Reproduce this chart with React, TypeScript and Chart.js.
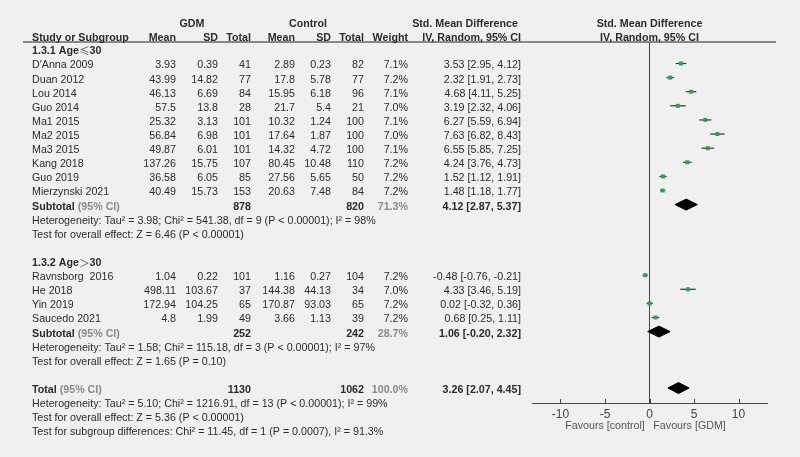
import React, { useEffect, useRef } from "react";
import { Chart, registerables } from "chart.js";

Chart.register(...registerables);

// ---- Data ----
const studies = [
  "D'Anna 2009", "Duan 2012", "Lou 2014", "Guo 2014", "Ma1 2015", "Ma2 2015", "Ma3 2015",
  "Kang 2018", "Guo 2019", "Mierzynski 2021",
  "Ravnsborg  2016", "He 2018", "Yin 2019", "Saucedo 2021",
];
const studyRows = [1, 2, 3, 4, 5, 6, 7, 8, 9, 10, 16, 17, 18, 19];
const gdmMean = [3.93, 43.99, 46.13, 57.5, 25.32, 56.84, 49.87, 137.26, 36.58, 40.49, 1.04, 498.11, 172.94, 4.8];
const gdmSD = [0.39, 14.82, 6.69, 13.8, 3.13, 6.98, 6.01, 15.75, 6.05, 15.73, 0.22, 103.67, 104.25, 1.99];
const gdmN = [41, 77, 84, 28, 101, 101, 101, 107, 85, 153, 101, 37, 65, 49];
const ctlMean = [2.89, 17.8, 15.95, 21.7, 10.32, 17.64, 14.32, 80.45, 27.56, 20.63, 1.16, 144.38, 170.87, 3.66];
const ctlSD = [0.23, 5.78, 6.18, 5.4, 1.24, 1.87, 4.72, 10.48, 5.65, 7.48, 0.27, 44.13, 93.03, 1.13];
const ctlN = [82, 77, 96, 21, 100, 100, 100, 110, 50, 84, 104, 34, 65, 39];
const weights = ["7.1%", "7.2%", "7.1%", "7.0%", "7.1%", "7.0%", "7.1%", "7.2%", "7.2%", "7.2%", "7.2%", "7.0%", "7.2%", "7.2%"];
const smd = [3.53, 2.32, 4.68, 3.19, 6.27, 7.63, 6.55, 4.24, 1.52, 1.48, -0.48, 4.33, 0.02, 0.68];
const ciLow = [2.95, 1.91, 4.11, 2.32, 5.59, 6.82, 5.85, 3.76, 1.12, 1.18, -0.76, 3.46, -0.32, 0.25];
const ciHigh = [4.12, 2.73, 5.25, 4.06, 6.94, 8.43, 7.25, 4.73, 1.91, 1.77, -0.21, 5.19, 0.36, 1.11];

const groupPrefixes = ["1.3.1 Age", "1.3.2 Age"];
const groupSymbols = ["\u2264", "\uff1e"];
const groupSuffixes = ["30", "30"];
const groupHeaderRows = [0, 15];

const summaryLabels = ["Subtotal", "Subtotal", "Total"];
const summaryRows = [11, 20, 24];
const summaryGdmN = [878, 252, 1130];
const summaryCtlN = [820, 242, 1062];
const summaryWeights = ["71.3%", "28.7%", "100.0%"];
const summaryEst = [4.12, 1.06, 3.26];
const summaryLow = [2.87, -0.2, 2.07];
const summaryHigh = [5.37, 2.32, 4.45];

const noteLines = [
  "Heterogeneity: Tau\u00b2 = 3.98; Chi\u00b2 = 541.38, df = 9 (P < 0.00001); I\u00b2 = 98%",
  "Test for overall effect: Z = 6.46 (P < 0.00001)",
  "Heterogeneity: Tau\u00b2 = 1.58; Chi\u00b2 = 115.18, df = 3 (P < 0.00001); I\u00b2 = 97%",
  "Test for overall effect: Z = 1.65 (P = 0.10)",
  "Heterogeneity: Tau\u00b2 = 5.10; Chi\u00b2 = 1216.91, df = 13 (P < 0.00001); I\u00b2 = 99%",
  "Test for overall effect: Z = 5.36 (P < 0.00001)",
  "Test for subgroup differences: Chi\u00b2 = 11.45, df = 1 (P = 0.0007), I\u00b2 = 91.3%",
];
const noteRows = [12, 13, 21, 22, 25, 26, 27];

const xTicks = [-10, -5, 0, 5, 10];
const favourLabels = ["Favours [control]", "Favours [GDM]"];

// ---- Styling ----
const FONT = "'Liberation Sans', Arial, 'Noto Sans CJK SC', sans-serif";
const CJK = "'Noto Sans CJK SC', sans-serif";
const FS = 10.7;
const TEXT = "#2b2b2b";
const GREY = "#8a8a8a";
const TEXT_DY = 2;
const Y_TOP = -0.524;
const Y_BOTTOM = 25.06;
const DIAMOND_H = 0.39;

const col = {
  study: 32,
  gMean: 176, gSD: 218, gN: 251,
  cMean: 295, cSD: 331, cN: 364,
  weight: 408, smd: 521,
};

function fmt2(v: number) {
  return v.toFixed(2);
}

const textPlugin = {
  id: "forestText",
  afterDraw(chart: any) {
    const ctx: CanvasRenderingContext2D = chart.ctx;
    const ys = chart.scales.y;
    const xs = chart.scales.x;
    const area = chart.chartArea;
    const Y = (r: number) => ys.getPixelForValue(r) + TEXT_DY;
    const t = (s: string, x: number, y: number, align: CanvasTextAlign, bold = false, color = TEXT, size = FS, fam = FONT) => {
      ctx.font = `${bold ? "bold " : ""}${size}px ${fam}`;
      ctx.fillStyle = color;
      ctx.textAlign = align;
      ctx.textBaseline = "middle";
      ctx.fillText(s, x, y);
      return ctx.measureText(s).width;
    };
    ctx.save();
    // header line
    ctx.strokeStyle = "#666";
    ctx.lineWidth = 1.5;
    ctx.beginPath();
    ctx.moveTo(23, area.top);
    ctx.lineTo(776, area.top);
    ctx.stroke();

    // headers
    const h1 = Y(-2) + 1, h2 = Y(-1) + 0.5;
    const plotCenter = xs.getPixelForValue(0);
    t("GDM", 192, h1, "center", true);
    t("Control", 308, h1, "center", true);
    t("Std. Mean Difference", 465, h1, "center", true);
    t("Std. Mean Difference", plotCenter, h1, "center", true);
    t("Study or Subgroup", col.study, h2, "left", true);
    t("Mean", col.gMean, h2, "right", true);
    t("SD", col.gSD, h2, "right", true);
    t("Total", col.gN, h2, "right", true);
    t("Mean", col.cMean, h2, "right", true);
    t("SD", col.cSD, h2, "right", true);
    t("Total", col.cN, h2, "right", true);
    t("Weight", col.weight, h2, "right", true);
    t("IV, Random, 95% CI", col.smd, h2, "right", true);
    t("IV, Random, 95% CI", plotCenter, h2, "center", true);

    groupPrefixes.forEach((g, i) => {
      const y = Y(groupHeaderRows[i]);
      let x = col.study;
      x += t(g, x, y, "left", true);
      x += t(groupSymbols[i], x, y, "left", false, "#555", FS, CJK);
      t(groupSuffixes[i], x, y, "left", true);
    });

    studies.forEach((s, i) => {
      const y = Y(studyRows[i]);
      t(s, col.study, y, "left");
      t(String(gdmMean[i]), col.gMean, y, "right");
      t(String(gdmSD[i]), col.gSD, y, "right");
      t(String(gdmN[i]), col.gN, y, "right");
      t(String(ctlMean[i]), col.cMean, y, "right");
      t(String(ctlSD[i]), col.cSD, y, "right");
      t(String(ctlN[i]), col.cN, y, "right");
      t(weights[i], col.weight, y, "right");
      t(`${fmt2(smd[i])} [${fmt2(ciLow[i])}, ${fmt2(ciHigh[i])}]`, col.smd, y, "right");
    });

    summaryLabels.forEach((lab, i) => {
      const y = Y(summaryRows[i]);
      const w = t(lab + " ", col.study, y, "left", true);
      t("(95% CI)", col.study + w, y, "left", true, GREY);
      t(String(summaryGdmN[i]), col.gN, y, "right", true);
      t(String(summaryCtlN[i]), col.cN, y, "right", true);
      t(summaryWeights[i], col.weight, y, "right", true, GREY);
      t(`${fmt2(summaryEst[i])} [${fmt2(summaryLow[i])}, ${fmt2(summaryHigh[i])}]`, col.smd, y, "right", true);
    });

    noteLines.forEach((n, i) => t(n, col.study, Y(noteRows[i]), "left"));

    // tick marks pointing up
    ctx.strokeStyle = "#444";
    ctx.lineWidth = 1;
    xTicks.forEach((v) => {
      const x = Math.round(xs.getPixelForValue(v)) + 0.5;
      ctx.beginPath();
      ctx.moveTo(x, area.bottom - 4);
      ctx.lineTo(x, area.bottom);
      ctx.stroke();
    });

    // favours labels
    const fy = 426;
    t(favourLabels[0], xs.getPixelForValue(-5), fy, "center", false, "#555");
    t(favourLabels[1], xs.getPixelForValue(4.5), fy, "center", false, "#555");
    ctx.restore();
  },
};

export default function App() {
  const ref = useRef<HTMLCanvasElement>(null);
  useEffect(() => {
    const squares = {
      data: smd.map((v, i) => ({ x: v, y: studyRows[i] })),
      pointStyle: "rect",
      pointRadius: 2.8,
      backgroundColor: "#1faa48",
      borderWidth: 0,
      showLine: false,
    };
    const ciLines = smd.map((_, i) => ({
      data: [
        { x: ciLow[i], y: studyRows[i] },
        { x: ciHigh[i], y: studyRows[i] },
      ],
      showLine: true,
      borderColor: "#333",
      borderWidth: 1.2,
      pointRadius: 0,
    }));
    const diamonds = summaryEst.map((e, i) => ({
      data: [
        { x: summaryLow[i], y: summaryRows[i] },
        { x: e, y: summaryRows[i] - DIAMOND_H },
        { x: summaryHigh[i], y: summaryRows[i] },
        { x: e, y: summaryRows[i] + DIAMOND_H },
        { x: summaryLow[i], y: summaryRows[i] },
      ],
      showLine: true,
      fill: "shape",
      backgroundColor: "#000",
      borderColor: "#000",
      borderWidth: 1,
      pointRadius: 0,
      tension: 0,
    }));
    const zeroLine = {
      data: [
        { x: 0, y: Y_TOP },
        { x: 0, y: Y_BOTTOM },
      ],
      showLine: true,
      borderColor: "#444",
      borderWidth: 1,
      pointRadius: 0,
    };
    const chart = new Chart(ref.current!, {
      type: "scatter",
      data: { datasets: [squares, ...ciLines, ...diamonds, zeroLine] as any },
      options: {
        responsive: false,
        animation: false,
        events: [],
        layout: { padding: { left: 532, right: 33, top: 42, bottom: 0 } },
        plugins: { legend: { display: false }, tooltip: { enabled: false } },
        scales: {
          x: {
            type: "linear",
            position: "bottom",
            min: -13.2,
            max: 13.2,
            afterBuildTicks: (s: any) => {
              s.ticks = xTicks.map((v) => ({ value: v }));
            },
            afterFit: (s: any) => {
              s.height = 54;
            },
            grid: { display: true, drawOnChartArea: false, drawTicks: false },
            border: { display: true, color: "#444", width: 1 },
            ticks: {
              padding: 4,
              color: "#444",
              font: { family: FONT, size: 12 },
              callback: (v: any) => String(v),
            },
          },
          y: {
            type: "linear",
            display: false,
            reverse: true,
            min: Y_TOP,
            max: Y_BOTTOM,
          },
        },
      },
      plugins: [textPlugin],
    });
    return () => chart.destroy();
  }, []);
  return (
    <div style={{ position: "fixed", left: 0, top: 0, width: 800, height: 457, background: "#f0f0f0" }}>
      <canvas ref={ref} width={800} height={457} style={{ display: "block" }} />
    </div>
  );
}
